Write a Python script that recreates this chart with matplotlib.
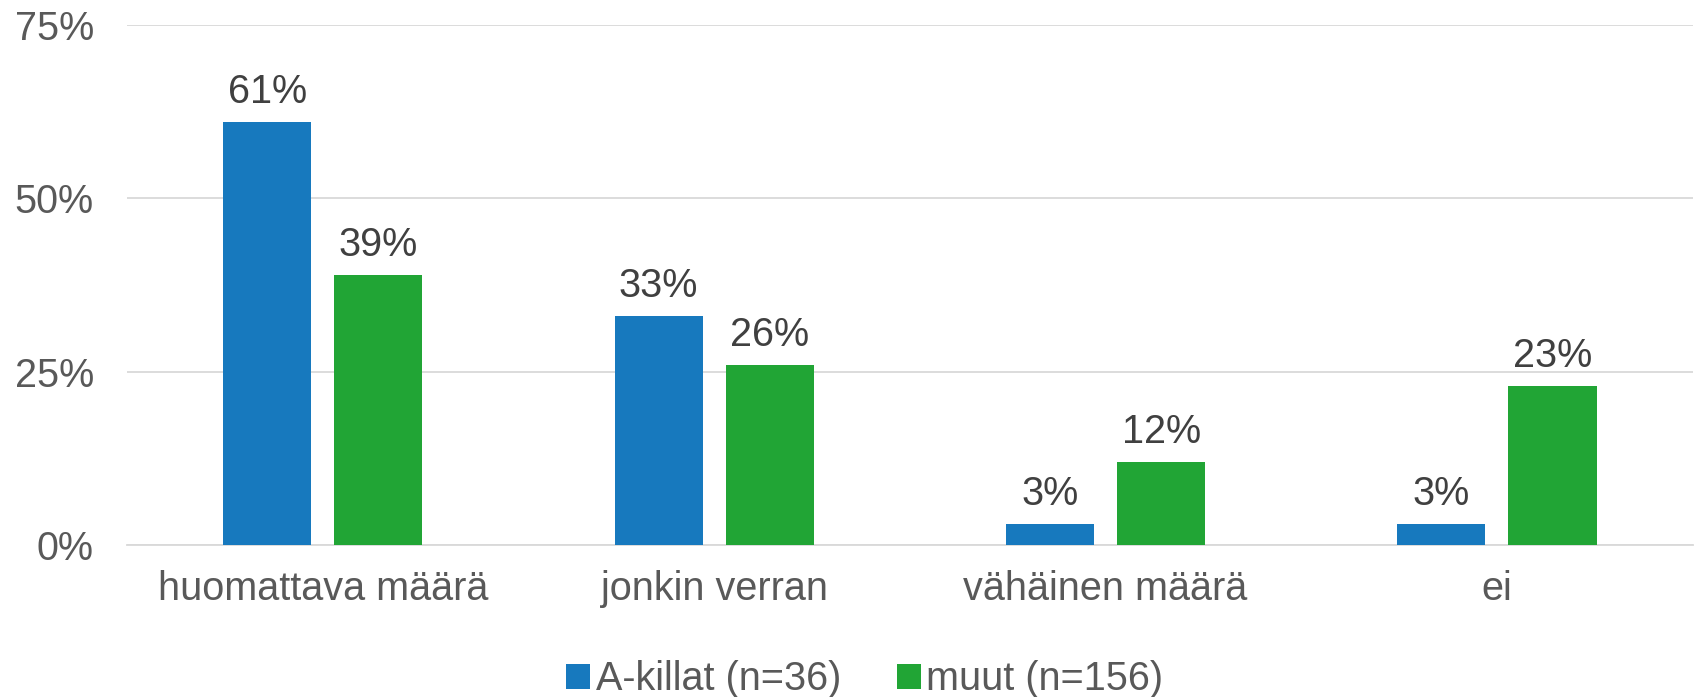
import numpy as np
import matplotlib.pyplot as plt
from matplotlib.ticker import FuncFormatter

categories = ["huomattava määrä", "jonkin verran", "vähäinen määrä", "ei"]
series_names = ["A-killat (n=36)", "muut (n=156)"]
a_killat = [61, 33, 3, 3]
muut = [39, 26, 12, 23]

colors = ["#1779BE", "#21A535"]
text_color = "#595959"
label_color = "#404040"

plt.rcParams["font.family"] = ["Liberation Sans", "DejaVu Sans"]
fs = 28.5

fig = plt.figure(figsize=(16.96, 6.97), dpi=100)
ax = fig.add_axes([0.075, 0.218, 0.923, 0.746])

x = np.arange(len(categories))
width = 0.225
offset = 0.142

for vals, name, color, sign in [(a_killat, series_names[0], colors[0], -1),
                                (muut, series_names[1], colors[1], 1)]:
    bars = ax.bar(x + sign * offset, vals, width, color=color, label=name, zorder=3)
    for b, v in zip(bars, vals):
        ax.text(b.get_x() + b.get_width() / 2, v + 1.6, f"{v}%",
                ha="center", va="bottom", fontsize=fs, color=label_color)

ax.set_xlim(-0.5, len(categories) - 0.5)
ax.set_ylim(0, 75)
ax.set_yticks([0, 25, 50, 75])
ax.yaxis.set_major_formatter(FuncFormatter(lambda v, p: f"{v:.0f}%"))
ax.set_xticks(x)
ax.set_xticklabels(categories)

ax.grid(axis="y", color="#D9D9D9", linewidth=1.3, zorder=0)
for s in ["top", "right", "left"]:
    ax.spines[s].set_visible(False)
ax.spines["bottom"].set_color("#D9D9D9")
ax.spines["bottom"].set_linewidth(1.3)
ax.tick_params(axis="both", length=0, labelsize=fs, colors=text_color)
ax.tick_params(axis="y", pad=24)
ax.tick_params(axis="x", pad=18)

leg = fig.legend(loc="lower center", bbox_to_anchor=(0.51, -0.053), ncol=2,
                 frameon=False, fontsize=fs, handlelength=0.6, handleheight=0.6,
                 handletextpad=0.15, columnspacing=1.4)
for t in leg.get_texts():
    t.set_color(text_color)

fig.savefig("out.png", dpi=100)
